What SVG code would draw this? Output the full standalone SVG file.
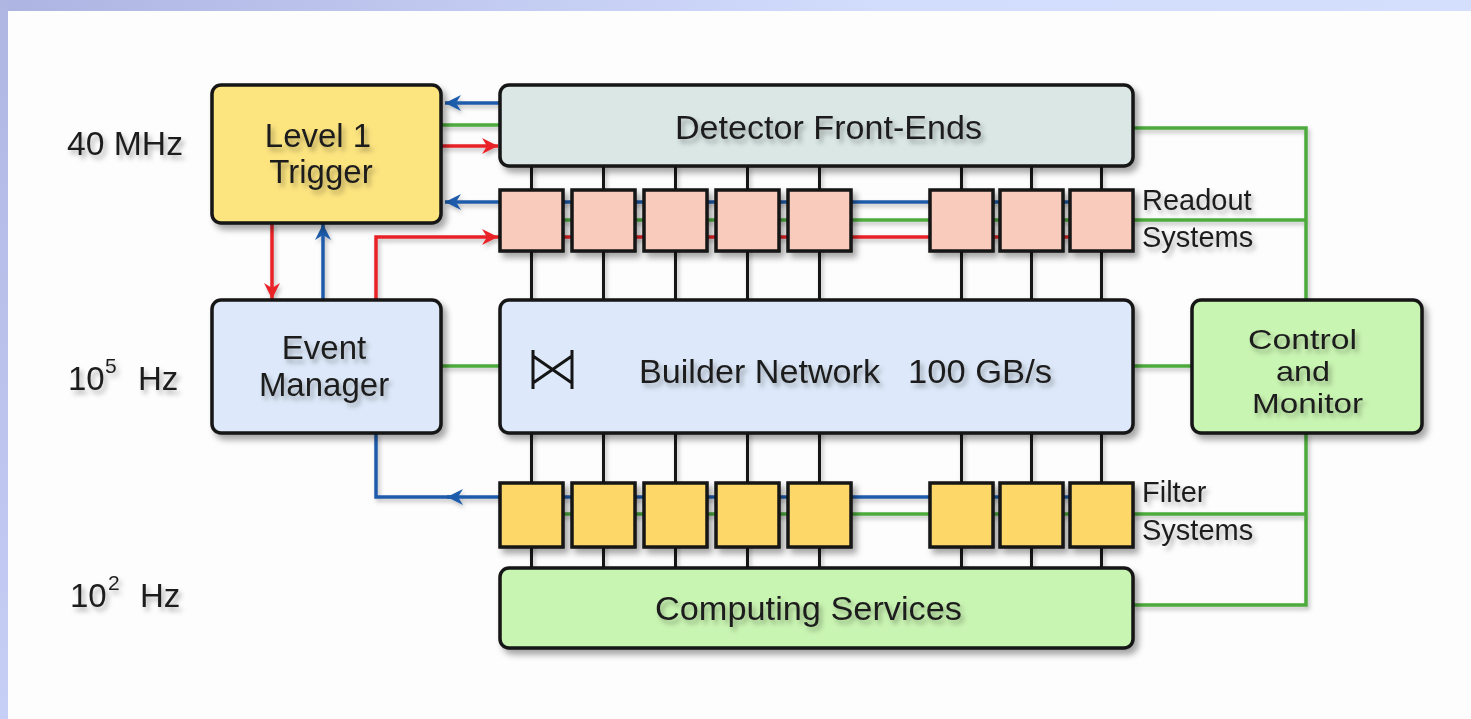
<svg xmlns="http://www.w3.org/2000/svg" width="1471" height="719" viewBox="0 0 1471 719">
  <defs>
    <linearGradient id="topBand" x1="0" y1="0" x2="1" y2="0">
      <stop offset="0" stop-color="#aeb4e2"/>
      <stop offset="0.6" stop-color="#d2ddfd"/>
      <stop offset="1" stop-color="#d4dffe"/>
    </linearGradient>
    <linearGradient id="leftBand" x1="0" y1="0" x2="0" y2="1">
      <stop offset="0" stop-color="#b0b6e2"/>
      <stop offset="1" stop-color="#c6cff6"/>
    </linearGradient>
    <filter id="shadow" x="-10%" y="-10%" width="130%" height="140%">
      <feDropShadow dx="4" dy="5" stdDeviation="3" flood-color="#000" flood-opacity="0.35"/>
    </filter>
    <filter id="lineShadow" x="-5%" y="-5%" width="110%" height="120%">
      <feDropShadow dx="2" dy="3" stdDeviation="2" flood-color="#000" flood-opacity="0.25"/>
    </filter>
    <filter id="textShadow" x="-10%" y="-20%" width="130%" height="160%">
      <feDropShadow dx="3" dy="4" stdDeviation="2.5" flood-color="#000" flood-opacity="0.3"/>
    </filter>
    <marker id="arrowBlue" markerUnits="userSpaceOnUse" markerWidth="18" markerHeight="18" refX="16" refY="8" orient="auto">
      <path d="M0,0 L16,8 L0,16 L5,8 z" fill="#1f5cab"/>
    </marker>
    <marker id="arrowRed" markerUnits="userSpaceOnUse" markerWidth="18" markerHeight="18" refX="16" refY="8" orient="auto">
      <path d="M0,0 L16,8 L0,16 L5,8 z" fill="#e82226"/>
    </marker>
    <style>
      .box { stroke: #151515; stroke-width: 3.5; }
      .trig { fill: #fce47f; }
      .det { fill: #dae7e4; }
      .ro { fill: #f9cbbd; }
      .flt { fill: #fdd869; }
      .blue { fill: #dde9fa; }
      .green { fill: #c9f5b2; }
      .bus { stroke: #151515; stroke-width: 3; fill: none; }
      .lb { stroke: #1f5cab; stroke-width: 3.5; fill: none; }
      .lr { stroke: #e82226; stroke-width: 3.5; fill: none; }
      .lg { stroke: #4eab3c; stroke-width: 3.5; fill: none; }
      text { font-family: "Liberation Sans", Arial, sans-serif; fill: #1e1e1e; }
      .t { font-size: 33px; }
      .c { font-size: 28px; }
      .s { font-size: 29px; }
      .sup { font-size: 21px; }
    </style>
  </defs>

  <!-- page -->
  <rect x="0" y="0" width="1471" height="719" fill="#fdfdfd"/>
  <rect x="0" y="0" width="1471" height="11" fill="url(#topBand)"/>
  <rect x="0" y="0" width="8" height="719" fill="url(#leftBand)"/>

  <!-- connectors -->
  <g id="connectors" filter="url(#lineShadow)">
    <!-- data paths through readout, builder, filter and computing -->
    <path class="bus" d="M531.5,166 V568 M603.5,166 V568 M675.5,166 V568 M747.5,166 V568 M819.5,166 V568 M961.5,166 V568 M1031.5,166 V568 M1101.5,166 V568"/>

    <!-- front-end links to trigger -->
    <path class="lb" d="M500,103 H445" marker-end="url(#arrowBlue)"/>
    <path class="lg" d="M441,125 H500"/>
    <path class="lr" d="M441,146 H498" marker-end="url(#arrowRed)"/>

    <!-- readout row links -->
    <path class="lb" d="M1101,202 H445" marker-end="url(#arrowBlue)"/>
    <path class="lg" d="M531,220 H1306"/>
    <path class="lr" d="M376,300 V237 H498" marker-end="url(#arrowRed)"/>
    <path class="lr" d="M498,237 H1101"/>

    <!-- trigger / event manager -->
    <path class="lr" d="M272,223 V299" marker-end="url(#arrowRed)"/>
    <path class="lb" d="M323,300 V224" marker-end="url(#arrowBlue)"/>

    <!-- filter row links -->
    <path class="lb" d="M1101,497 H447" marker-end="url(#arrowBlue)"/>
    <path class="lb" d="M452,497 H376 V433"/>
    <path class="lg" d="M531,514 H1306"/>

    <!-- control and monitor links -->
    <path class="lg" d="M441,366 H500"/>
    <path class="lg" d="M1133,366 H1192"/>
    <path class="lg" d="M1133,128 H1306 V300"/>
    <path class="lg" d="M1306,433 V605 H1133"/>
  </g>

  <!-- rate labels -->
  <g id="rates" filter="url(#textShadow)">
    <text class="t" x="67" y="155" textLength="116" lengthAdjust="spacingAndGlyphs">40 MHz</text>
    <text class="t" x="68" y="390">10</text>
    <text class="sup" x="105" y="373">5</text>
    <text class="t" x="138" y="390">Hz</text>
    <text class="t" x="70" y="607">10</text>
    <text class="sup" x="108" y="590">2</text>
    <text class="t" x="140" y="607">Hz</text>
  </g>

  <g id="level1-trigger">
    <rect class="box trig" x="212" y="85" width="229" height="138" rx="9" filter="url(#shadow)"/>
    <g filter="url(#textShadow)">
      <text class="t" x="318" y="147" text-anchor="middle">Level 1</text>
      <text class="t" x="321" y="183" text-anchor="middle">Trigger</text>
    </g>
  </g>

  <g id="detector-front-ends">
    <rect class="box det" x="500" y="85" width="633" height="81" rx="9" filter="url(#shadow)"/>
    <text class="t" x="675" y="139" textLength="307" lengthAdjust="spacingAndGlyphs" filter="url(#textShadow)">Detector Front-Ends</text>
  </g>

  <g id="readout-systems" filter="url(#shadow)">
    <rect class="box ro" x="500" y="190" width="63" height="61"/>
    <rect class="box ro" x="572" y="190" width="63" height="61"/>
    <rect class="box ro" x="644" y="190" width="63" height="61"/>
    <rect class="box ro" x="716" y="190" width="63" height="61"/>
    <rect class="box ro" x="788" y="190" width="63" height="61"/>
    <rect class="box ro" x="930" y="190" width="63" height="61"/>
    <rect class="box ro" x="1000" y="190" width="63" height="61"/>
    <rect class="box ro" x="1070" y="190" width="63" height="61"/>
  </g>
  <g id="readout-label" filter="url(#textShadow)">
    <text class="s" x="1142" y="210">Readout</text>
    <text class="s" x="1142" y="247">Systems</text>
  </g>

  <g id="event-manager">
    <rect class="box blue" x="212" y="300" width="229" height="133" rx="9" filter="url(#shadow)"/>
    <g filter="url(#textShadow)">
      <text class="t" x="324" y="359" text-anchor="middle">Event</text>
      <text class="t" x="324" y="396" text-anchor="middle">Manager</text>
    </g>
  </g>

  <g id="builder-network">
    <rect class="box blue" x="500" y="300" width="633" height="133" rx="9" filter="url(#shadow)"/>
    <path d="M533,350 V389 M572,350 V389 M533,356 L572,383 M533,383 L572,356" stroke="#151515" stroke-width="3" fill="none"/>
    <g filter="url(#textShadow)">
      <text class="t" x="639" y="383" textLength="241" lengthAdjust="spacingAndGlyphs">Builder Network</text>
      <text class="t" x="908" y="383" textLength="144" lengthAdjust="spacingAndGlyphs">100 GB/s</text>
    </g>
  </g>

  <g id="control-and-monitor">
    <rect class="box green" x="1192" y="300" width="230" height="133" rx="9" filter="url(#shadow)"/>
    <g filter="url(#textShadow)">
      <text class="c" x="1248" y="349" textLength="109" lengthAdjust="spacingAndGlyphs">Control</text>
      <text class="c" x="1276" y="381" textLength="54" lengthAdjust="spacingAndGlyphs">and</text>
      <text class="c" x="1252" y="413" textLength="111" lengthAdjust="spacingAndGlyphs">Monitor</text>
    </g>
  </g>

  <g id="filter-systems" filter="url(#shadow)">
    <rect class="box flt" x="500" y="483" width="63" height="64"/>
    <rect class="box flt" x="572" y="483" width="63" height="64"/>
    <rect class="box flt" x="644" y="483" width="63" height="64"/>
    <rect class="box flt" x="716" y="483" width="63" height="64"/>
    <rect class="box flt" x="788" y="483" width="63" height="64"/>
    <rect class="box flt" x="930" y="483" width="63" height="64"/>
    <rect class="box flt" x="1000" y="483" width="63" height="64"/>
    <rect class="box flt" x="1070" y="483" width="63" height="64"/>
  </g>
  <g id="filter-label" filter="url(#textShadow)">
    <text class="s" x="1142" y="502">Filter</text>
    <text class="s" x="1142" y="540">Systems</text>
  </g>

  <g id="computing-services">
    <rect class="box green" x="500" y="568" width="633" height="80" rx="9" filter="url(#shadow)"/>
    <text class="t" x="655" y="620" textLength="307" lengthAdjust="spacingAndGlyphs" filter="url(#textShadow)">Computing Services</text>
  </g>
</svg>
